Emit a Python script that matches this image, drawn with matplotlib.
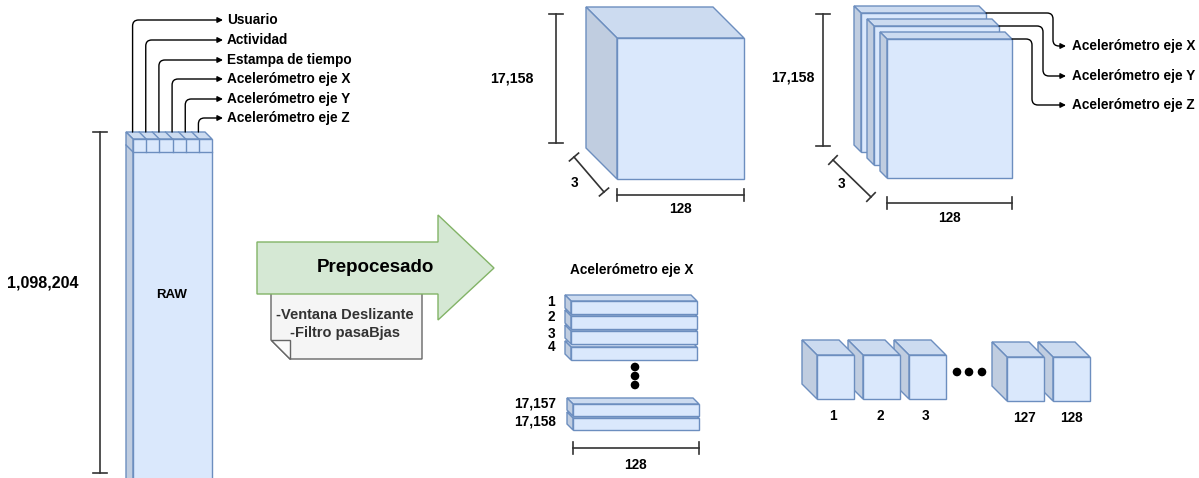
import matplotlib.pyplot as plt
from matplotlib.patches import Polygon, Circle, FancyArrowPatch
from matplotlib.path import Path

plt.rcParams["font.family"] = ["Liberation Sans", "DejaVu Sans"]

# text content of the diagram
RAW_FIELDS   = ["Usuario", "Actividad", "Estampa de tiempo",
                "Acelerómetro eje X", "Acelerómetro eje Y", "Acelerómetro eje Z"]
RAW_ROWS     = "1,098,204"
RAW_LABEL    = "RAW"
STEP_TITLE   = "Prepocesado"
STEP_NOTES   = ["-Ventana Deslizante", "-Filtro pasaBjas"]
N_WINDOWS    = "17,158"
N_CHANNELS   = "3"
WINDOW_LEN   = "128"
AXIS_LABELS  = ["Acelerómetro eje X", "Acelerómetro eje Y", "Acelerómetro eje Z"]
ROW_LABELS   = ["1", "2", "3", "4"]
LAST_ROWS    = ["17,157", "17,158"]
STEP_LABELS  = ["1", "2", "3", "127", "128"]

FRONT = "#dae8fc"
TOP   = "#ccdbf0"
SIDE  = "#c0cde0"
EDGE  = "#6c8ebf"
FS    = 9.8

fig = plt.figure(figsize=(11.99, 4.78), dpi=100)
ax = fig.add_axes([0, 0, 1, 1])
ax.set_xlim(0, 1199)
ax.set_ylim(478, 0)
ax.axis("off")


def box(x0, y0, w, h, d, z=2):
    # front face plus top and left faces shifted back by d
    ax.add_patch(Polygon([(x0, y0), (x0 - d, y0 - d), (x0 + w - d, y0 - d), (x0 + w, y0)],
                         fc=TOP, ec=EDGE, lw=1, zorder=z))
    ax.add_patch(Polygon([(x0, y0), (x0 - d, y0 - d), (x0 - d, y0 + h - d), (x0, y0 + h)],
                         fc=SIDE, ec=EDGE, lw=1, zorder=z))
    ax.add_patch(Polygon([(x0, y0), (x0 + w, y0), (x0 + w, y0 + h), (x0, y0 + h)],
                         fc=FRONT, ec=EDGE, lw=1, zorder=z))


def bracket(p0, p1, t=7):
    (x0, y0), (x1, y1) = p0, p1
    L = ((x1 - x0) ** 2 + (y1 - y0) ** 2) ** 0.5
    nx, ny = -(y1 - y0) / L * t, (x1 - x0) / L * t
    ax.plot([x0, x1], [y0, y1], color="#333333", lw=1.2)
    for x, y in (p0, p1):
        ax.plot([x - nx, x + nx], [y - ny, y + ny], color="#333333", lw=1.2)


def label(x, y, s, size=FS, ha="center", color="black", weight="bold"):
    ax.text(x, y, s, ha=ha, va="center", fontsize=size, fontweight=weight, color=color)


def elbow(pts, r=6):
    # polyline with rounded corners, arrow at the end
    verts, codes = [pts[0]], [Path.MOVETO]
    for i in range(1, len(pts) - 1):
        (ax0, ay0), (bx, by), (cx, cy) = pts[i - 1], pts[i], pts[i + 1]
        l1 = max(abs(bx - ax0), abs(by - ay0))
        l2 = max(abs(cx - bx), abs(cy - by))
        a = (bx - (bx - ax0) / l1 * r, by - (by - ay0) / l1 * r)
        c = (bx + (cx - bx) / l2 * r, by + (cy - by) / l2 * r)
        verts += [a, (bx, by), c]
        codes += [Path.LINETO, Path.CURVE3, Path.CURVE3]
    verts.append(pts[-1])
    codes.append(Path.LINETO)
    ax.add_patch(FancyArrowPatch(path=Path(verts, codes), arrowstyle="-|>",
                                 mutation_scale=8, color="black", lw=1, zorder=3))


# ---- RAW column ----
cx0, cy0, cw, d = 133, 139, 79, 7
box(cx0, cy0, cw, 400, d)
cell = cw / 6
for i in range(1, 6):
    xb = cx0 + i * cell
    ax.plot([xb, xb], [cy0, cy0 + 13], color=EDGE, lw=1, zorder=3)
    ax.plot([xb, xb - d], [cy0, cy0 - d], color=EDGE, lw=1, zorder=3)
ax.plot([cx0, cx0 + cw], [cy0 + 13, cy0 + 13], color=EDGE, lw=1, zorder=3)
ax.plot([cx0, cx0 - d], [cy0 + 13, cy0 + 13 - d], color=EDGE, lw=1, zorder=3)
label(172, 295, RAW_LABEL, size=9.5)

field_y = [20, 40, 60, 79, 99, 118]
for i, (name, fy) in enumerate(zip(RAW_FIELDS, field_y)):
    x = cx0 + (i + 0.5) * cell - d
    elbow([(x, cy0 - d), (x, fy), (223, fy)], r=6)
    label(227, fy, name, ha="left")

bracket((100, 132), (100, 473))
label(43, 283, RAW_ROWS, size=11.6)

# ---- preprocessing arrow + note ----
ax.add_patch(Polygon([(271, 282), (422, 282), (422, 359), (290, 359), (271, 340)],
                     fc="#f5f5f5", ec="#666666", lw=1, zorder=2))
ax.add_patch(Polygon([(271, 340), (290, 340), (290, 359)],
                     fc="#fbfbfb", ec="#666666", lw=1, zorder=2))
label(345, 315, STEP_NOTES[0], size=10.5, color="#333333")
label(345, 333, STEP_NOTES[1], size=10.5, color="#333333")
ax.add_patch(Polygon([(257, 242), (438, 242), (438, 215), (494, 268),
                      (438, 320), (438, 294), (257, 294)],
                     fc="#d5e8d4", ec="#82b366", lw=1, zorder=3))
ax.text(375, 268, STEP_TITLE, ha="center", va="center", fontsize=13.5,
        fontweight="bold", zorder=4)

# ---- single block cube ----
box(617, 38, 127, 141, 31)
bracket((556, 14), (556, 143))
label(512, 78, N_WINDOWS, size=10.2)
bracket((574, 157), (604, 192), t=6)
label(574, 183, N_CHANNELS)
bracket((617, 195), (744, 195), t=6)
label(680, 209, WINDOW_LEN)

# ---- three stacked plates ----
plates = [(861, 13), (874, 26), (887, 39)]
for (px, py) in plates:
    box(px, py, 125, 139, 7)
bracket((823, 14), (823, 146))
label(793, 77, N_WINDOWS, size=10.2)
bracket((833, 160), (871, 197), t=6)
label(841, 184, N_CHANNELS)
bracket((887, 203), (1012, 203), t=6)
label(949, 218, WINDOW_LEN)

bend_x = [1053, 1043, 1032]
out_y = [46, 76, 105]
for (px, py), bx, oy, name in zip(plates, bend_x, out_y, AXIS_LABELS):
    elbow([(px + 125, py), (bx, py), (bx, oy), (1066, oy)], r=6)
    label(1072, oy, name, ha="left")

# ---- rows of one axis (upper rows sit in front) ----
label(632, 270, AXIS_LABELS[0])
row_tops = [301, 316, 331, 347]
for k, (rt, name, ly) in enumerate(zip(row_tops, ROW_LABELS, [302, 317, 334, 347])):
    box(571, rt, 126, 13, 6, z=10 - k)
    label(555, ly, name, ha="right")
for k, (rt, name, ly) in enumerate(zip([404, 418], LAST_ROWS, [404, 422])):
    box(573, rt, 126, 12, 6, z=10 - k)
    label(556, ly, name, ha="right")
for yd in [367, 376, 385]:
    ax.add_patch(Circle((635, yd), 3.6, color="black", zorder=4))
bracket((573, 448), (699, 448), t=6)
label(635, 465, WINDOW_LEN)

# ---- time steps (left cubes sit in front) ----
step_boxes = [(817, 355), (863, 355), (909, 355), (1007, 357), (1053, 357)]
step_lx = [833, 880, 925, 1025, 1071]
for k, ((bx, by), name, lx) in enumerate(zip(step_boxes, STEP_LABELS, step_lx)):
    box(bx, by, 37, 44, 15, z=10 - k)
    label(lx, by + 61, name)
for xd in [957, 969, 982]:
    ax.add_patch(Circle((xd, 372), 3.6, color="black", zorder=4))

fig.savefig("out.png", dpi=100)
